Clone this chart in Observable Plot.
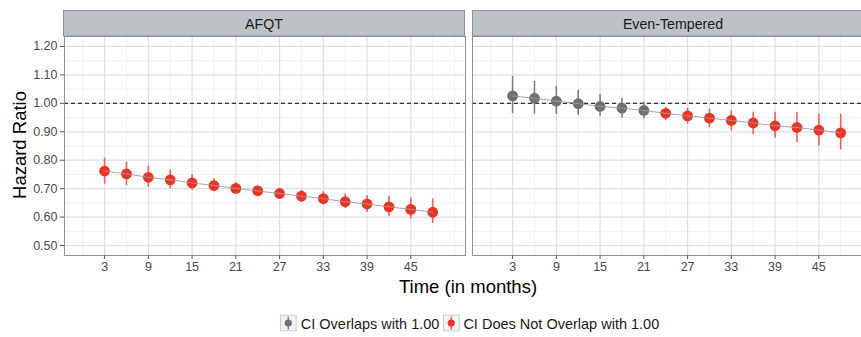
<!DOCTYPE html>
<html>
<head>
<meta charset="utf-8">
<script src="https://cdn.jsdelivr.net/npm/d3@7"></script>
<script src="https://cdn.jsdelivr.net/npm/@observablehq/plot@0.6"></script>
<style>
  html, body { margin: 0; padding: 0; background: #fff; overflow: hidden; }
  #wrap { position: relative; width: 874px; height: 337px; font-family: "Liberation Sans", Arial, Helvetica, sans-serif; }
  #chart { position: absolute; left: 0; top: 0; }
  .xtitle { position: absolute; left: 468px; top: 277px; transform: translateX(-50%); font-size: 18.5px; line-height: 20px; color: #000; white-space: nowrap; }
  .ytitle { position: absolute; left: 20px; top: 145px; transform: translate(-50%, -50%) rotate(-90deg); font-size: 18.5px; line-height: 20px; color: #000; white-space: nowrap; }
  .legend { position: absolute; left: 471px; top: 323px; transform: translate(-50%, -50%); display: flex; align-items: center; font-size: 14.5px; color: #1a1a1a; white-space: nowrap; }
  .legend svg { display: block; margin-right: 4px; }
  .legend .item { display: flex; align-items: center; margin-right: 3px; }
</style>
</head>
<body>
<div id="wrap">
  <div id="chart"></div>
  <div class="ytitle">Hazard Ratio</div>
  <div class="xtitle">Time (in months)</div>
  <div class="legend" id="legend"></div>
</div>
<script>
// Panels (traits) and follow-up times
const panels = ["AFQT", "Even-Tempered"];
const months = [3, 6, 9, 12, 15, 18, 21, 24, 27, 30, 33, 36, 39, 42, 45, 48];

// AFQT: hazard ratio with 95% CI bounds
const afqtHR = [0.762, 0.752, 0.740, 0.731, 0.720, 0.711, 0.701, 0.692, 0.683, 0.674, 0.665, 0.654, 0.646, 0.636, 0.627, 0.617];
const afqtLo = [0.715, 0.711, 0.705, 0.699, 0.694, 0.689, 0.682, 0.673, 0.666, 0.652, 0.642, 0.631, 0.617, 0.603, 0.593, 0.578];
const afqtHi = [0.807, 0.794, 0.779, 0.765, 0.748, 0.735, 0.721, 0.708, 0.699, 0.694, 0.689, 0.681, 0.675, 0.673, 0.666, 0.664];

// Even-Tempered: hazard ratio with 95% CI bounds
const evenHR = [1.026, 1.018, 1.008, 0.999, 0.989, 0.983, 0.975, 0.965, 0.956, 0.948, 0.940, 0.931, 0.921, 0.915, 0.906, 0.896];
const evenLo = [0.964, 0.962, 0.961, 0.958, 0.955, 0.948, 0.946, 0.940, 0.927, 0.915, 0.903, 0.890, 0.877, 0.862, 0.849, 0.836];
const evenHi = [1.095, 1.077, 1.060, 1.046, 1.031, 1.017, 1.004, 0.986, 0.983, 0.980, 0.974, 0.969, 0.969, 0.967, 0.962, 0.962];

// Axis ticks
const xTicks = [3, 9, 15, 21, 27, 33, 39, 45];
const yTicks = [0.5, 0.6, 0.7, 0.8, 0.9, 1.0, 1.1, 1.2];

// Legend categories
const groups = ["CI Overlaps with 1.00", "CI Does Not Overlap with 1.00"];
const groupColors = ["#6d7074", "#ea3526"];
const barColors = ["#7d8084", "#f0604f"];

// Long-format table
const series = [
  {panel: panels[0], hr: afqtHR, lo: afqtLo, hi: afqtHi},
  {panel: panels[1], hr: evenHR, lo: evenLo, hi: evenHi}
];
const rows = series.flatMap(s => months.map((m, i) => ({
  panel: s.panel,
  month: m,
  hr: s.hr[i],
  lo: s.lo[i],
  hi: s.hi[i],
  group: (s.lo[i] <= 1 && s.hi[i] >= 1) ? groups[0] : groups[1]
})));

// Layout
const W = 874, H = 300;
const ML = 63, MR = 0, MT = 36, MB = 45;
const PAD = 0.0171;
const xMinor = d3.range(0, 52, 6).concat([51]);
const yMinor = d3.range(0.55, 1.2, 0.1);

const chart = Plot.plot({
  width: W,
  height: H,
  marginLeft: ML,
  marginRight: MR,
  marginTop: MT,
  marginBottom: MB,
  style: {fontFamily: "'Liberation Sans', Arial, Helvetica, sans-serif", background: "#fff", overflow: "visible"},
  fx: {domain: panels, paddingInner: PAD, paddingOuter: 0, axis: null, label: null},
  x: {domain: [-2.5, 52.5], label: null},
  y: {domain: [0.465, 1.235], label: null},
  color: {domain: groups, range: groupColors},
  marks: [
    Plot.gridX(xMinor, {stroke: "#eef1f3", strokeOpacity: 1, strokeWidth: 1}),
    Plot.gridY(yMinor, {stroke: "#eef1f3", strokeOpacity: 1, strokeWidth: 1}),
    Plot.gridX(xTicks, {stroke: "#dce1e5", strokeOpacity: 1, strokeWidth: 1.2}),
    Plot.gridY(yTicks, {stroke: "#dce1e5", strokeOpacity: 1, strokeWidth: 1.2}),
    Plot.ruleY([1], {stroke: "#333", strokeWidth: 1.2, strokeDasharray: "4,3"}),
    Plot.ruleX(rows, {x: "month", y1: "lo", y2: "hi", fx: "panel",
      stroke: d => barColors[groups.indexOf(d.group)], strokeWidth: 1.6}),
    Plot.dot(rows, {x: "month", y: "hr", fx: "panel", fill: "group", r: 5.4, stroke: "none"}),
    Plot.line(rows, {x: "month", y: "hr", fx: "panel", z: "panel", stroke: "#9c9c9c", strokeWidth: 1, strokeOpacity: 0.9}),
    Plot.frame({stroke: "#8e9296", strokeWidth: 1}),
    Plot.axisY(yTicks, {anchor: "left", facetAnchor: "left", tickFormat: d3.format(".2f"), tickSize: 4, tickPadding: 3,
      fontSize: 12.5, color: "#4a4a4a", stroke: "#555", label: null}),
    Plot.axisX(xTicks, {anchor: "bottom", tickSize: 4, tickPadding: 3, fontSize: 12.5, color: "#4a4a4a", stroke: "#555", label: null})
  ]
});
document.getElementById("chart").appendChild(chart);

// Facet strips above each panel
const band = d3.scaleBand(panels, [ML, W - MR]).paddingInner(PAD).paddingOuter(0);
const strip = d3.select(chart).append("g").attr("class", "strips");
strip.selectAll("rect").data(panels).join("rect")
  .attr("x", d => band(d) + 0.5)
  .attr("y", 10.5)
  .attr("width", band.bandwidth() - 1)
  .attr("height", 25.5)
  .attr("fill", "#bdc2c7")
  .attr("stroke", "#8e9296");
strip.selectAll("text").data(panels).join("text")
  .attr("x", d => band(d) + band.bandwidth() / 2)
  .attr("y", 23.5)
  .attr("text-anchor", "middle")
  .attr("dominant-baseline", "central")
  .attr("font-size", 14.2)
  .attr("fill", "#1a1a1a")
  .text(d => d);

// Legend keys
const legend = d3.select("#legend");
groups.forEach((g, i) => {
  const item = legend.append("div").attr("class", "item");
  const key = item.append("svg").attr("width", 17).attr("height", 17);
  key.append("rect").attr("x", 0.5).attr("y", 0.5).attr("width", 16).attr("height", 16)
    .attr("fill", "#f2f2f2").attr("stroke", "#c4c4c4");
  key.append("line").attr("x1", 8.5).attr("x2", 8.5).attr("y1", 2).attr("y2", 15)
    .attr("stroke", barColors[i]).attr("stroke-width", 1.4);
  key.append("circle").attr("cx", 8.5).attr("cy", 8.5).attr("r", 3.6).attr("fill", groupColors[i]);
  item.append("span").text(g);
});
</script>
</body>
</html>
